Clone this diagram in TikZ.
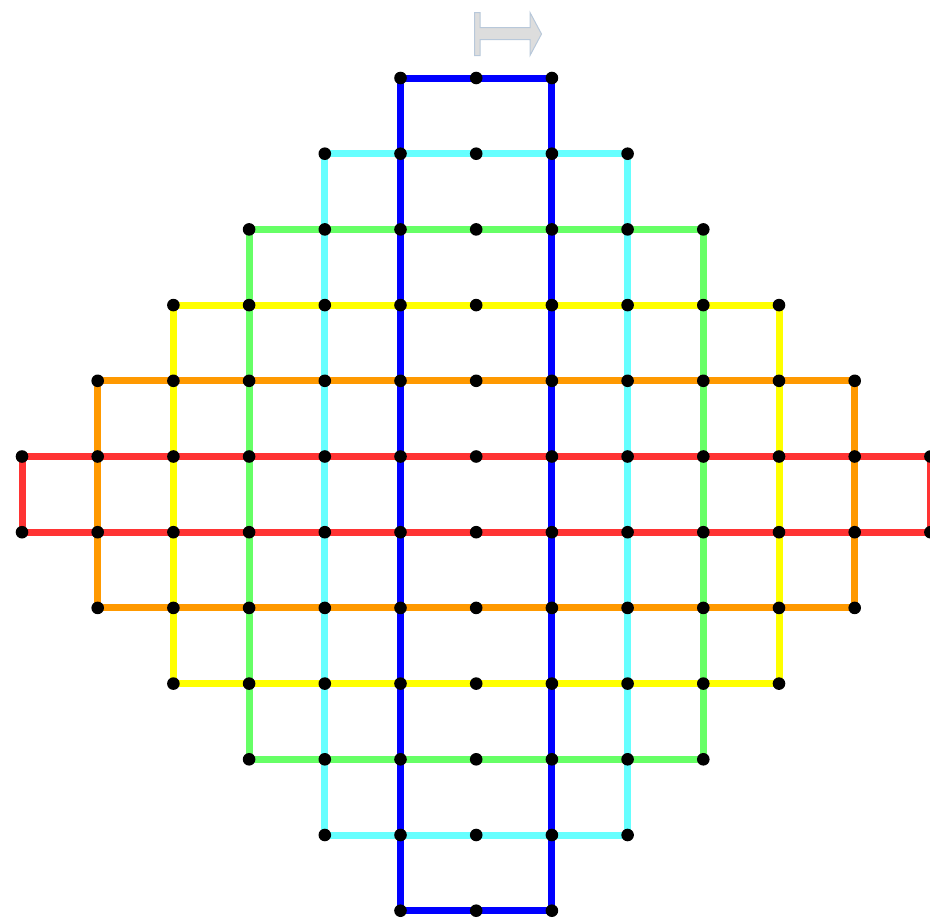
\documentclass[tikz,border=0pt]{standalone}
\definecolor{cRed}{RGB}{255,51,51}
\definecolor{cOrange}{RGB}{255,153,0}
\definecolor{cYellow}{RGB}{255,255,0}
\definecolor{cGreen}{RGB}{102,255,102}
\definecolor{cCyan}{RGB}{102,255,255}
\definecolor{cBlue}{RGB}{0,0,255}
\definecolor{arrFill}{RGB}{221,221,221}
\definecolor{arrLine}{RGB}{184,200,218}
\tikzset{
  ring/.style={line width=7pt},
  dot/.style={fill=black},
  mapsarrow/.style={fill=arrFill, draw=arrLine, line width=1pt, line join=miter}
}
\begin{document}
\begin{tikzpicture}[x=1pt,y=-1pt]
\useasboundingbox (0,0) rectangle (930,918);
\foreach \c in {0,...,12}
  \foreach \r in {0,...,11}
    \coordinate (p\c-\r) at ({22+75.7*\c},{78+75.7*\r});
% nested rectangles
\draw[ring, cRed]    (p0-5) rectangle (p12-6);
\draw[ring, cOrange] (p1-4) rectangle (p11-7);
\draw[ring, cYellow] (p2-3) rectangle (p10-8);
\draw[ring, cGreen]  (p3-2) rectangle (p9-9);
\draw[ring, cCyan]   (p4-1) rectangle (p8-10);
\draw[ring, cBlue]   (p5-0) rectangle (p7-11);
% dots
\foreach \r in {0,...,5} {
  \pgfmathtruncatemacro{\a}{5-\r}
  \pgfmathtruncatemacro{\b}{7+\r}
  \pgfmathtruncatemacro{\s}{11-\r}
  \foreach \c in {\a,...,\b} {
    \fill[dot] (p\c-\r) circle (6.3pt);
    \fill[dot] (p\c-\s) circle (6.3pt);
  }
}
% maps-to arrow
\draw[mapsarrow] (474.5,12.5) -- (480,12.5) -- (480,27.5) -- (530,27.5) -- (530,12.5)
  -- (541.5,34) -- (530,55.5) -- (530,39.5) -- (480,39.5) -- (480,55.5) -- (474.5,55.5) -- cycle;
\end{tikzpicture}
\end{document}
